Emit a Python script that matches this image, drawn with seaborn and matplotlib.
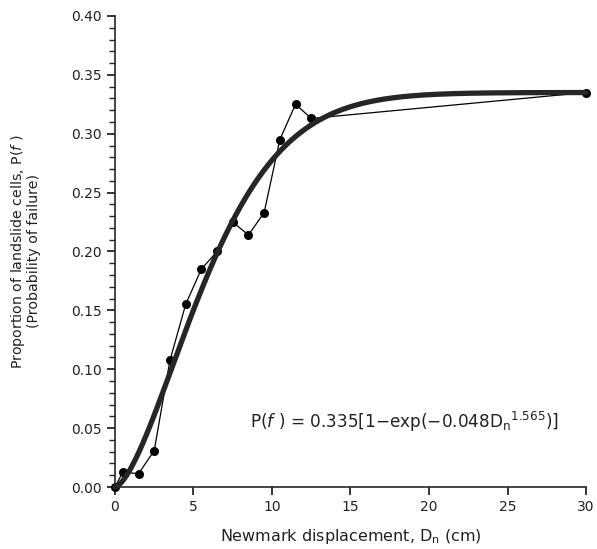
import numpy as np
import pandas as pd
import matplotlib
matplotlib.use("Agg")
import matplotlib.pyplot as plt
from matplotlib.ticker import MultipleLocator
import seaborn as sns

# --- Data ---------------------------------------------------------------------
# Newmark displacement bin midpoints (cm) and proportion of landslide cells
displacement = [0, 0.5, 1.5, 2.5, 3.5, 4.5, 5.5, 6.5, 7.5, 8.5, 9.5, 10.5, 11.5, 12.5, 30]
prop_failure = [0.0, 0.0127, 0.0113, 0.031, 0.1075, 0.155, 0.185, 0.200, 0.225,
                0.214, 0.233, 0.295, 0.325, 0.313, 0.335]

# fitted Weibull curve parameters shown on the chart
fit_m = 0.335
fit_a = 0.048
fit_b = 1.565

x_ticks = [0, 5, 10, 15, 20, 25, 30]
y_ticks = [0.00, 0.05, 0.10, 0.15, 0.20, 0.25, 0.30, 0.35, 0.40]

obs = pd.DataFrame({"Dn": displacement, "Pf": prop_failure})
fit_x = np.linspace(0, 30, 400)
fit = pd.DataFrame({"Dn": fit_x, "Pf": fit_m * (1 - np.exp(-fit_a * fit_x ** fit_b))})

# --- Plot ---------------------------------------------------------------------
sns.set_style("ticks")
plt.rcParams["font.family"] = ["DejaVu Sans"]
plt.rcParams["mathtext.fontset"] = "dejavusans"

fig = plt.figure(figsize=(5.97, 5.49), dpi=100)
ax = fig.add_axes([0.1926, 0.1129, 0.789, 0.858])

sns.lineplot(data=obs, x="Dn", y="Pf", ax=ax, color="black", linewidth=0.9,
             marker="o", markersize=6.5, markeredgewidth=0, sort=False, clip_on=False)
sns.lineplot(data=fit, x="Dn", y="Pf", ax=ax, color="#262626", linewidth=3.8,
             clip_on=False)

ax.set_xlim(0, 30)
ax.set_ylim(0, 0.40)
ax.set_xticks(x_ticks)
ax.set_yticks(y_ticks)
ax.set_yticklabels([f"{v:.2f}" for v in y_ticks])
ax.yaxis.set_minor_locator(MultipleLocator(0.01))

sns.despine(ax=ax)
for s in ["left", "bottom"]:
    ax.spines[s].set_linewidth(1.2)
ax.tick_params(axis="both", which="major", direction="out", length=6, width=1.1,
               labelsize=10, colors="black", labelcolor="#222222")
ax.tick_params(axis="y", which="minor", direction="out", length=4, width=1.0)

ax.set_xlabel(r"Newmark displacement, D$_\mathregular{n}$ (cm)", fontsize=11.5,
              color="#222222", labelpad=9)
ax.set_ylabel("Proportion of landslide cells, P($f$ )\n(Probability of failure)",
              fontsize=10.2, color="#222222", linespacing=1.0)
ax.yaxis.set_label_coords(-0.157, 0.5)

ax.text(8.6, 0.055,
        r"P($f$ ) = 0.335[1$-$exp($-$0.048D$_\mathregular{n}$$^\mathregular{1.565}$)]",
        fontsize=12.2, color="#222222", ha="left", va="center")

fig.savefig("out.png", dpi=100)
plt.close(fig)
